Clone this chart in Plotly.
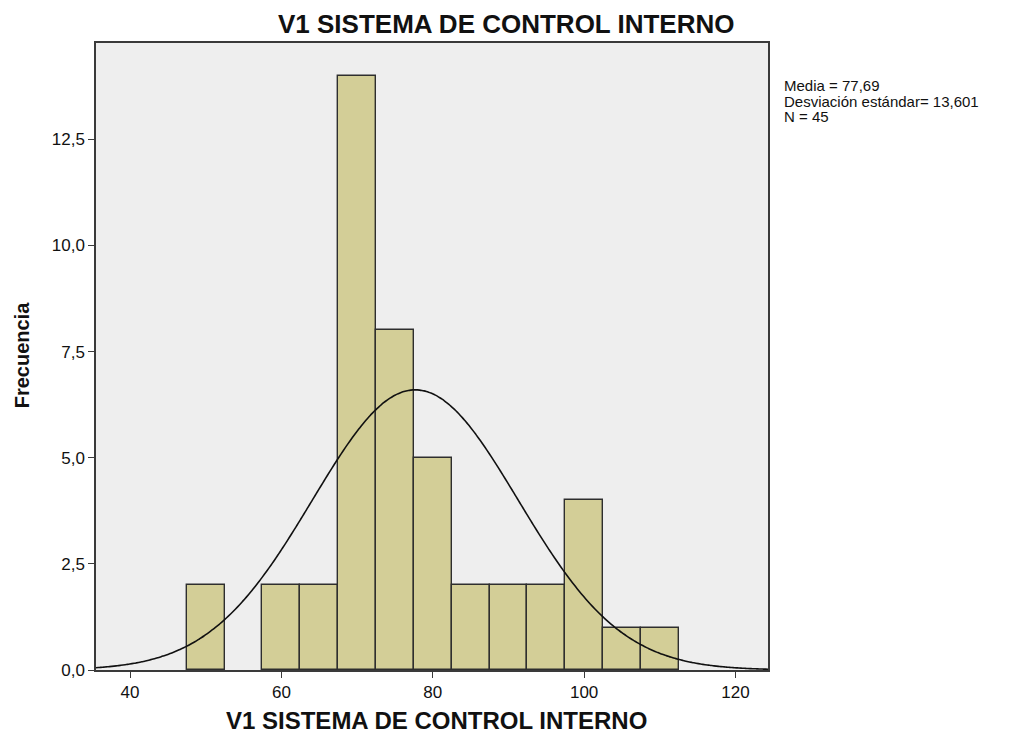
import numpy as np
import plotly.graph_objects as go

# Histograma: centro de cada clase (ancho 5) y frecuencias
centros = [50, 60, 65, 70, 75, 80, 85, 90, 95, 100, 105, 110]
frecuencias = [2, 2, 2, 14, 8, 5, 2, 2, 2, 4, 1, 1]
ancho_clase = 5

MEDIA = 77.69
DESV = 13.601
N = 45

x_ticks = [40, 60, 80, 100, 120]
y_ticks = [0, 2.5, 5, 7.5, 10, 12.5]

titulo = "V1 SISTEMA DE CONTROL INTERNO"

# curva normal ajustada (media / desv. estándar del propio gráfico)
xs = np.linspace(35.5, 124.3, 300)
ys = N * ancho_clase * np.exp(-0.5 * ((xs - MEDIA) / DESV) ** 2) / (DESV * np.sqrt(2 * np.pi))

fig = go.Figure()

fig.add_trace(go.Bar(x=centros, y=frecuencias, width=ancho_clase,
                     marker=dict(color="#D3CE97", line=dict(color="#2e2e2e", width=1.4)),
                     showlegend=False))

fig.add_trace(go.Scatter(x=xs, y=ys, mode="lines",
                         line=dict(color="#111111", width=1.6, shape="spline"),
                         showlegend=False))

fuente = "Arial, Liberation Sans, sans-serif"

# la página html añade ~8px de margen, se compensa aquí
fig.update_layout(
    width=1010, height=729,
    margin=dict(l=88, r=250, t=35, b=67),
    paper_bgcolor="white",
    plot_bgcolor="#EEEEEE",
    separators=",.",
    font=dict(family=fuente, color="#111111"),
    bargap=0,
    xaxis=dict(range=[35.5, 124.3], tickvals=x_ticks, showgrid=False, zeroline=False,
               showline=True, linecolor="#3a3a3a", linewidth=1.5, mirror=True,
               ticks="outside", ticklen=6, tickcolor="#3a3a3a",
               tickfont=dict(size=17, family=fuente)),
    yaxis=dict(range=[0, 14.77], tickvals=y_ticks, tickformat=".1f", showgrid=False, zeroline=False,
               showline=True, linecolor="#3a3a3a", linewidth=1.5, mirror=True,
               ticks="outside", ticklen=6, tickcolor="#3a3a3a",
               tickfont=dict(size=17, family=fuente)),
)

# títulos
fig.add_annotation(text="<b>" + titulo + "</b>", xref="paper", yref="paper",
                   x=0.611, y=1.030, xanchor="center", yanchor="middle", showarrow=False,
                   font=dict(size=26, family=fuente, color="#111111"))
fig.add_annotation(text="<b>" + titulo + "</b>", xref="paper", yref="paper",
                   x=0.506, y=-0.081, xanchor="center", yanchor="middle", showarrow=False,
                   font=dict(size=24, family=fuente, color="#111111"))
fig.add_annotation(text="<b>Frecuencia</b>", xref="paper", yref="paper",
                   x=-0.110, y=0.502, xanchor="center", yanchor="middle", showarrow=False,
                   textangle=-90, font=dict(size=20, family=fuente, color="#111111"))

# estadísticos
lineas = ["Media = 77,69", "Desviación estándar= 13,601", "N = 45"]
pos_y = [0.933, 0.907, 0.882]
for txt, yy in zip(lineas, pos_y):
    fig.add_annotation(text=txt, xref="paper", yref="paper", x=1.021, y=yy,
                       xanchor="left", yanchor="middle", showarrow=False,
                       font=dict(size=15, family=fuente, color="#111111"))

fig.write_html("out.html")
